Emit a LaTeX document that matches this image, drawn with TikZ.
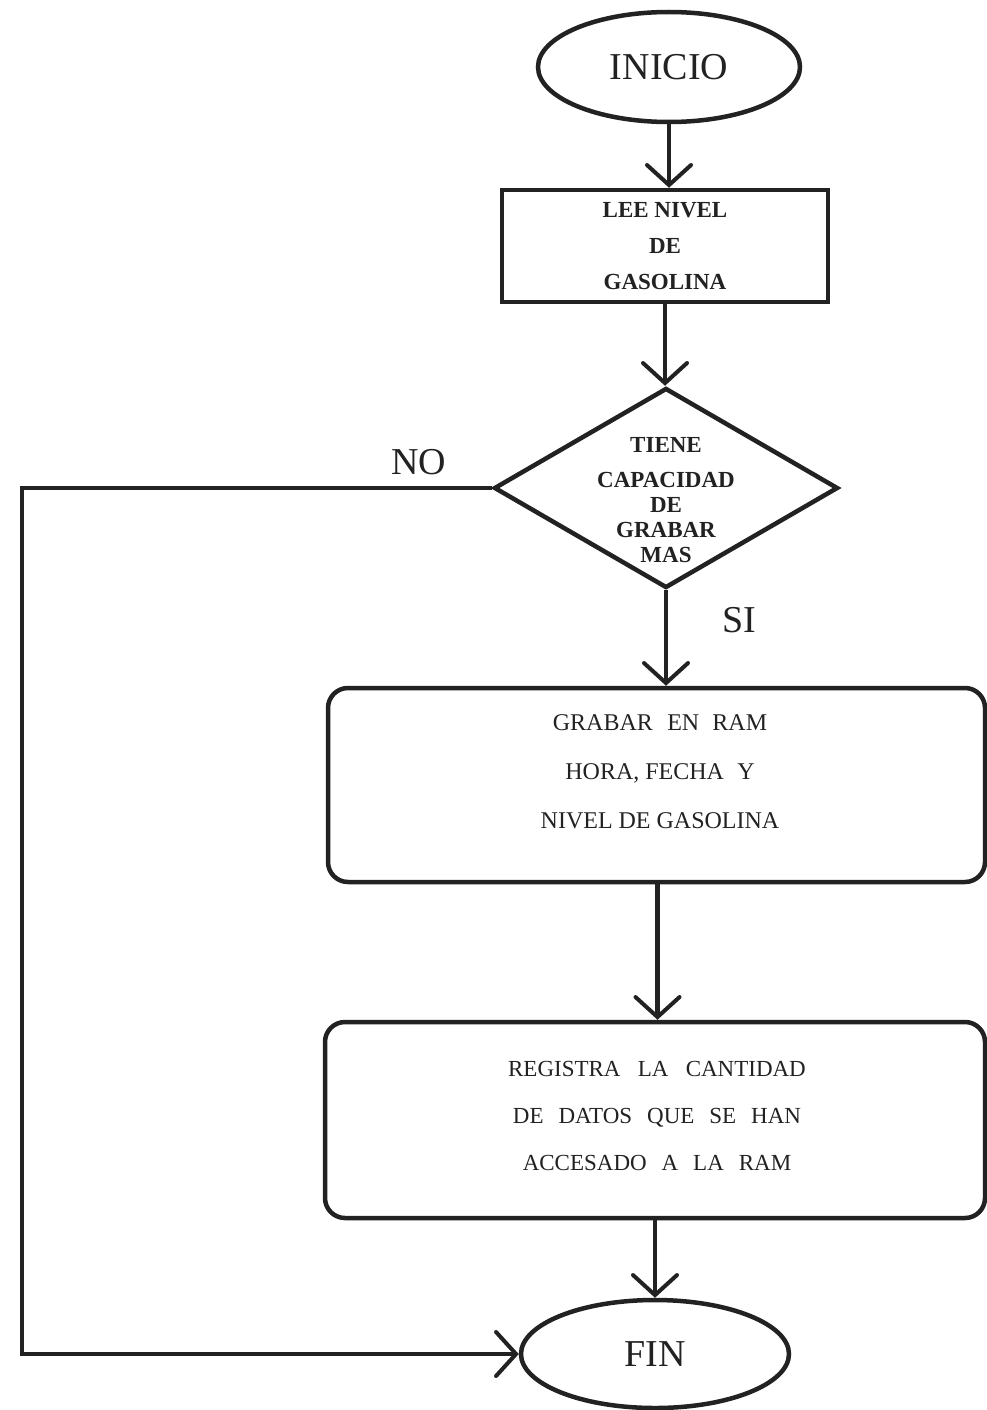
\documentclass[tikz,border=0pt]{standalone}
\usepackage{fontspec}
\setmainfont{LiberationSerif}[Extension=.ttf,UprightFont=*-Regular,BoldFont=*-Bold]
\usetikzlibrary{shapes.geometric,arrows.meta}
\definecolor{ink}{HTML}{222222}
\begin{document}
\begin{tikzpicture}[x=1pt,y=-1pt,
  every node/.style={text=ink},
  base/.style={draw=ink,line width=4.5pt,inner sep=0pt},
  term/.style={base,ellipse,font=\fontsize{38}{40}\selectfont},
  procbox/.style={base,rectangle,align=center,font=\bfseries\fontsize{23}{36}\selectfont},
  roundbox/.style={base,rectangle,rounded corners=20pt},
  decision/.style={base,diamond},
  boxtext/.style={align=center,font=\fontsize{24}{49}\selectfont},
  smalltext/.style={align=center,font=\bfseries\fontsize{23}{25}\selectfont},
  tag/.style={font=\fontsize{38}{40}\selectfont},
  flow/.style={draw=ink,line width=4.5pt,
    -{Straight Barb[length=20pt,width=44pt,line width=4pt,line cap=round]}},
]
\useasboundingbox (0,0) rectangle (986,1410);
\fill[white] (0,0) rectangle (986,1410);

% terminals, steps and the decision
\node[term,minimum width=262pt,minimum height=110pt] (ini) at (669,67) {INICIO};
\node[procbox,minimum width=326pt,minimum height=112pt] (lee) at (665,246)
  {LEE NIVEL\\DE\\GASOLINA};
\node[decision,minimum width=344pt,minimum height=200pt] (dec) at (666,488) {};
\node[smalltext] (dectxt) at (666,500)
  {TIENE\\[10pt]CAPACIDAD\\DE\\GRABAR\\MAS};
\node[roundbox,minimum width=657pt,minimum height=194pt] (grab) at (656.5,785) {};
\node[boxtext] (grabtxt) at (660,772)
  {GRABAR\hspace{0.35em} EN\hspace{0.3em} RAM\\HORA, FECHA\hspace{0.3em} Y\\NIVEL DE GASOLINA};
\node[roundbox,minimum width=660pt,minimum height=196pt] (reg) at (655,1120) {};
\node[boxtext,font=\fontsize{23}{47}\selectfont] (regtxt) at (657,1116)
  {REGISTRA\hspace{0.5em} LA\hspace{0.5em} CANTIDAD\\DE\hspace{0.4em} DATOS\hspace{0.4em} QUE\hspace{0.4em} SE\hspace{0.4em} HAN\\ACCESADO\hspace{0.4em} A\hspace{0.4em} LA\hspace{0.4em} RAM};
\node[term,minimum width=268pt,minimum height=108pt] (fin) at (655,1354) {FIN};

% branch labels
\node[tag] (no) at (419,462) {NO};
\node[tag] (si) at (739,620) {SI};

% connectors
\coordinate (loop) at (22,1354);
\draw[flow] (ini.south) -- (ini.south |- lee.north);
\draw[flow] (lee.south) -- (lee.south |- dec.north);
\draw[flow] (dec.south) -- (dec.south |- grab.north);
\draw[flow] ([xshift=1pt]grab.south) -- ([xshift=1pt]grab.south |- reg.north);
\draw[flow] (reg.south) -- (reg.south |- fin.north);
\draw[flow,line join=miter] (dec.west) -| (loop) -- (fin.west);
\end{tikzpicture}
\end{document}
